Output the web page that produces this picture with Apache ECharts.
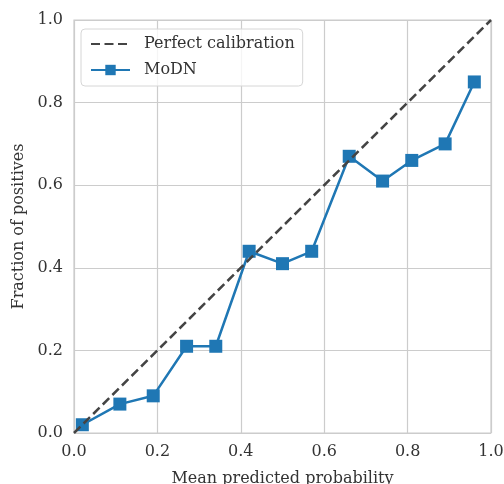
<!DOCTYPE html>
<html>
<head>
<meta charset="utf-8">
<script src="https://cdn.jsdelivr.net/npm/echarts@6/dist/echarts.min.js"></script>
<style>
  html, body { margin: 0; padding: 0; background: #fff; }
  #chart { width: 504px; height: 484px; }
</style>
</head>
<body>
<div id="chart"></div>
<script>
// 校准曲线数据
const meanPred = [0.02, 0.11, 0.19, 0.27, 0.34, 0.42, 0.50, 0.57, 0.66, 0.74, 0.81, 0.89, 0.96]
const fracPos = [0.02, 0.07, 0.09, 0.21, 0.21, 0.44, 0.41, 0.44, 0.67, 0.61, 0.66, 0.70, 0.85]
const perfectLine = [[0, 0], [1, 1]]
const seriesNames = ['Perfect calibration', 'MoDN']

const font = 'DejaVu Serif'
const textColor = '#333'
const fs = 16

const chart = echarts.init(document.getElementById('chart'))
const option = {
  animation: false,
  textStyle: { fontFamily: font },
  grid: {
    left: 74,
    right: 13,
    top: 20,
    bottom: 51,
    outerBoundsMode: 'none',
    containLabel: false,
    show: true,
    borderColor: '#cccccc',
    borderWidth: 1.2
  },
  legend: {
    left: 81,
    top: 29,
    orient: 'vertical',
    padding: [7, 8, 8, 9],
    itemGap: 10,
    itemWidth: 39,
    itemHeight: 13,
    borderColor: '#d6d6d6',
    borderWidth: 1,
    borderRadius: 4,
    backgroundColor: 'rgba(255,255,255,0.8)',
    textStyle: { fontFamily: font, fontSize: fs, color: textColor, padding: [0, 0, 0, 9] },
    data: [
      { name: seriesNames[0], itemStyle: { opacity: 0 } },
      { name: seriesNames[1] }
    ]
  },
  xAxis: {
    type: 'value',
    min: 0,
    max: 1,
    interval: 0.2,
    name: 'Mean predicted probability',
    nameLocation: 'middle',
    nameGap: 38,
    nameTextStyle: { fontFamily: font, fontSize: fs, color: textColor },
    axisLine: { show: false },
    axisTick: { show: false },
    axisLabel: {
      margin: 11,
      fontFamily: font,
      fontSize: fs,
      color: textColor,
      formatter: v => v.toFixed(1)
    },
    splitLine: { lineStyle: { color: '#cccccc', width: 1.2 } }
  },
  yAxis: {
    type: 'value',
    min: 0,
    max: 1,
    interval: 0.2,
    name: 'Fraction of positives',
    nameLocation: 'middle',
    nameGap: 47,
    nameTextStyle: { fontFamily: font, fontSize: fs, color: textColor },
    axisLine: { show: false },
    axisTick: { show: false },
    axisLabel: {
      margin: 11,
      fontFamily: font,
      fontSize: fs,
      color: textColor,
      formatter: v => v.toFixed(1)
    },
    splitLine: { lineStyle: { color: '#cccccc', width: 1.2 } }
  },
  series: [{
    name: seriesNames[0],
    type: 'line',
    symbol: 'none',
    data: perfectLine,
    lineStyle: { color: '#444444', width: 2.5, type: [9, 4.5] },
    itemStyle: { color: '#444444' },
    z: 3
  }, {
    name: seriesNames[1],
    type: 'line',
    symbol: 'rect',
    symbolSize: 13,
    data: meanPred.map((x, i) => [x, fracPos[i]]),
    lineStyle: { color: '#1f77b4', width: 2.5 },
    itemStyle: { color: '#1f77b4' },
    z: 2
  }]
}
chart.setOption(option, true)
</script>
</body>
</html>
